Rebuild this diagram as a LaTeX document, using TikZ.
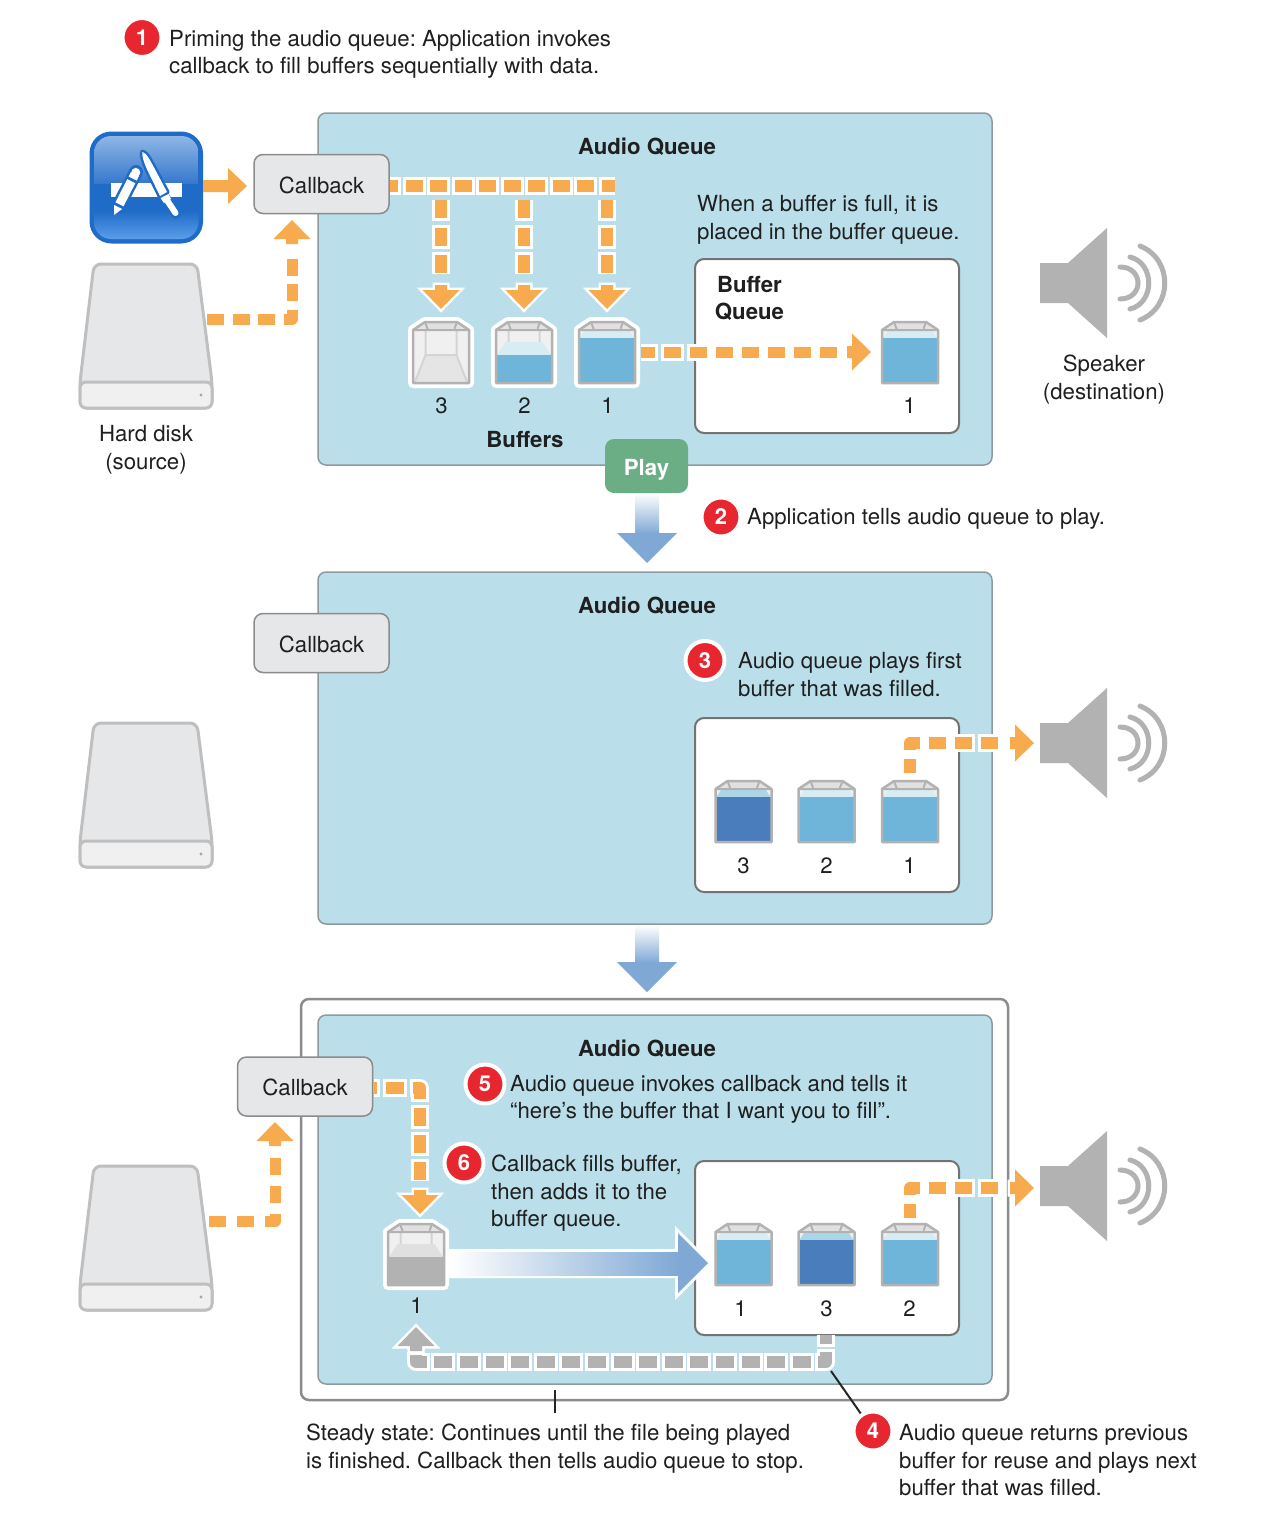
\documentclass[tikz,border=0pt]{standalone}
\usepackage{fontspec}
\setmainfont{TeX Gyre Heros}
\frenchspacing
\definecolor{panelblue}{HTML}{BADEEA}
\definecolor{panelline}{HTML}{8E9A9E}
\definecolor{boxgray}{HTML}{E6E7E8}
\definecolor{orangeA}{HTML}{F7AB4E}
\definecolor{grayA}{HTML}{B2B2B2}
\definecolor{liquidA}{HTML}{6FB5D9}
\definecolor{liquidB}{HTML}{4A7DBB}
\definecolor{topA}{HTML}{D8ECF4}
\definecolor{topB}{HTML}{A9D7E8}
\definecolor{flowblue}{HTML}{7FA8D5}
\definecolor{redA}{HTML}{E8262F}
\definecolor{greenA}{HTML}{6BAE85}
\definecolor{appblue}{HTML}{1F6CC8}
\definecolor{appglossA}{HTML}{8FB6E4}
\definecolor{appglossB}{HTML}{3577CE}
\definecolor{appglossC}{HTML}{5B9EEA}
\newcommand{\textsz}{\fontsize{22.2}{27.6}\selectfont}
\newcommand{\lowered}[2]{\raisebox{-#1pt}[0pt][0pt]{#2}}
\tikzset{
  x=1pt,y=-1pt,
  txt/.style={inner sep=0pt,font=\textsz,text=black!88},
  para/.style={txt,align=left,anchor=north west},
  lab/.style={txt,align=center,anchor=center},
  bold/.style={txt,font=\textsz\bfseries,align=center},
  panel/.style={draw=panelline,line width=1.5pt,fill=panelblue,rounded corners=8pt},
  qbox/.style={draw=black!55,line width=2pt,fill=white,rounded corners=9pt},
  cbox/.style={draw=black!45,line width=1.5pt,fill=boxgray,rounded corners=9pt,minimum width=135pt,minimum height=59pt,inner sep=0pt,font=\textsz,text=black!88},
  numdot/.style={circle,fill=redA,draw=white,line width=4pt,minimum size=39pt,inner sep=0pt,text=white,font=\fontsize{22}{24}\selectfont\bfseries},
  lead/.style={draw=black!85,line width=2pt},
  pics/headO/.style={code={
    \path[draw=white,fill=white,line width=5pt,miter limit=10] (-24,-6)--(-19,-6)--(-19,-18.5)--(0,0)--(-19,18.5)--(-19,6)--(-24,6)--cycle;
    \fill[#1] (-24,-6)--(-19,-6)--(-19,-18.5)--(0,0)--(-19,18.5)--(-19,6)--(-24,6)--cycle;}},
}
% width, colour, on, off, phase, path
\newcommand{\dashrun}[6]{%
  \pgfmathsetmacro{\cw}{#1+6}\pgfmathsetmacro{\con}{#3+6}\pgfmathsetmacro{\coff}{#4-6}\pgfmathsetmacro{\cph}{#5+3}%
  \draw[white,line width=\cw pt,line join=round,dash pattern=on \con pt off \coff pt,dash phase=\cph pt] #6;
  \draw[#2,line width=#1pt,line join=round,dash pattern=on #3pt off #4pt,dash phase=#5pt] #6;}
% name, cx, top, halo, liquid y, light height, liquid colour, light colour
\newcommand{\bufferglyph}[8]{%
  \coordinate (#1) at (#2,#3);
  \begin{scope}[shift={(#2,#3)},line join=round]
    \ifnum#4=1 \draw[white,line width=10pt,fill=white] (-16,0)--(16,0)--(28,8)--(28,61)--(-28,61)--(-28,8)--cycle;\fi
    \fill[black!6] (-28,8) rectangle (28,61);
    \fill[black!10] (-15.5,33)--(15.5,33)--(27,60)--(-27,60)--cycle;
    \fill[black!11] (-16,0)--(16,0)--(28,8)--(-28,8)--cycle;
    \draw[black!17,line width=2pt] (-15.5,8)--(-15.5,33)--(15.5,33)--(15.5,8) (-15.5,33)--(-26,60) (15.5,33)--(26,60);
    \fill[#8] (-27,#5)--(27,#5)--({27-0.65*#6},{#5-#6})--({-27+0.65*#6},{#5-#6})--cycle;
    \fill[#7] (-27,#5) rectangle (27,60);
    \draw[grayA,line width=2pt] (-28,8)--(28,8) (-16,0)--(-13,8) (16,0)--(13,8);
    \fill[black!12] (-12.5,2) rectangle (12.5,7);
    \draw[grayA,line width=2.5pt] (-16,0)--(16,0)--(28,8)--(28,61)--(-28,61)--(-28,8)--cycle;
  \end{scope}}
\newcommand{\diskglyph}[2]{%
  \coordinate (#1) at (146,#2+336);
  \begin{scope}[yshift=-#2pt,line width=3pt,draw=black!25]
    \draw[fill=boxgray,rounded corners=7pt,draw=black!25] (94,264)--(197,264)--(212,382)--(212,408)--(80,408)--(80,382)--cycle;
    \draw[fill=black!6,rounded corners=6pt,draw=black!25] (80,382)--(212,382)--(212,408)--(80,408)--cycle;
    \fill[black!35] (201,395) circle (1.6);
  \end{scope}}
\newcommand{\speakerglyph}[2]{%
  \coordinate (#1) at (1040,#2);
  \begin{scope}[yshift=-#2pt]
    \fill[grayA] (1040,-20)--(1068,-20)--(1107,-55)--(1107,55)--(1068,20)--(1040,20)--cycle;
    \draw[grayA,line width=5pt,line cap=round]
      (1120,-16) .. controls (1144,-16) and (1144,16) .. (1120,16)
      (1130,-26) .. controls (1155,-20) and (1155,20) .. (1130,26)
      (1140,-37) .. controls (1173,-24) and (1173,24) .. (1140,37);
  \end{scope}}
\begin{document}
\begin{tikzpicture}
\useasboundingbox (0,0) rectangle (1282,1520);
\fill[white] (0,0) rectangle (1282,1520);

% frames and panels
\draw[draw=black!45,line width=2.5pt,fill=white,rounded corners=8pt] (301,999) rectangle (1008,1400);
\path[panel] (318,113) rectangle (992,465);
\path[panel] (318,572) rectangle (992,924);
\path[panel] (318,1015) rectangle (992,1384);
\path[qbox] (695,259) rectangle (959,433);
\path[qbox] (695,718) rectangle (959,892);
\path[qbox] (695,1161) rectangle (959,1335);

% app icon
\coordinate (app) at (203,186);
\fill[appblue,rounded corners=22pt] (89.5,131.5) rectangle (203,243.5);
\begin{scope}
  \clip[rounded corners=17pt] (94,136) rectangle (198.5,239);
  \shade[top color=appglossA,bottom color=appglossB] (90,136) rectangle (203,184);
  \fill[appblue] (90,184) rectangle (203,211);
  \shade[top color=appblue,bottom color=appglossC] (90,211) rectangle (203,239);
\end{scope}
\fill[white] (111,183) rectangle (182,197);
% pen
\draw[appblue,line width=14pt,line cap=round] (118,207)--(136,172);
\fill[white] (114,215)--(122.1,209)--(114.1,205)--cycle;
\draw[white,line width=9pt] (119.5,204.3)--(131.3,181.2);
\draw[white,line width=9pt] (132.7,178.5)--(134.9,174.1);
\fill[white] (135.8,172.4) circle (4.5);
% brush
\draw[appblue,line width=5pt,fill=appblue,line join=round] (142.5,152) .. controls (147,153) and (150,160) .. (167,192) -- (160,196) .. controls (150,175) and (141,160) .. (142.5,152) -- cycle;
\draw[appblue,line width=10pt,line cap=round] (164,196)--(176,214);
\fill[white] (142.5,152) .. controls (147,153) and (150,160) .. (167,192) -- (160,196) .. controls (150,175) and (141,160) .. (142.5,152) -- cycle;
\fill[white] (160.5,198)--(168.5,194)--(171,199)--(164,203)--cycle;
\draw[white,line width=6pt,line cap=round] (167.5,201)--(175.5,213);

% disks and speakers
\diskglyph{disk1}{0}
\diskglyph{disk2}{459}
\diskglyph{disk3}{902}
\speakerglyph{spk1}{283}
\speakerglyph{spk2}{743}
\speakerglyph{spk3}{1186}

% callback boxes
\node[cbox] (cb1) at (321.5,184) {\lowered{9}{Callback}};
\node[cbox] (cb2) at (321.5,643) {\lowered{9}{Callback}};
\node[cbox] (cb3) at (305,1086.5) {\lowered{8.5}{Callback}};

% panel 1 buffers
\bufferglyph{b13}{441}{322}{1}{62}{0}{liquidA}{topA}
\bufferglyph{b12}{524}{322}{1}{33}{13}{liquidA}{topA}
\bufferglyph{b11}{607}{322}{1}{16}{7}{liquidA}{topA}
\bufferglyph{q11}{910}{322}{0}{16}{7}{liquidA}{topA}
% panel 2 buffers
\bufferglyph{q23}{743.5}{781}{0}{16}{7}{liquidB}{topB}
\bufferglyph{q22}{826.5}{781}{0}{16}{7}{liquidA}{topA}
\bufferglyph{q21}{910}{781}{0}{16}{7}{liquidA}{topA}
% panel 3 buffers
\bufferglyph{b31}{416}{1224}{1}{33}{13}{grayA}{black!12}
\bufferglyph{q31}{743.5}{1224}{0}{16}{7}{liquidA}{topA}
\bufferglyph{q33}{826.5}{1224}{0}{16}{7}{liquidB}{topB}
\bufferglyph{q32}{910}{1224}{0}{16}{7}{liquidA}{topA}

% solid app arrow
\fill[orangeA] (app|-0,180)--(228,180)--(228,168)--(247,186)--(228,204)--(228,192)--(app|-0,192)--cycle;

% disk to callback (top)
\coordinate (d1s) at (207,319); \coordinate (d1c) at (292,319); \coordinate (d1e) at (292,256);
\dashrun{11}{orangeA}{17}{8.7}{0}{(d1s)--(d1c)--(d1e)}
\pic[rotate=90] at (292,220) {headO={orangeA}};

% callback to buffers
\coordinate (cbs) at (390,186); \coordinate (cbe) at (615,186);
\dashrun{12}{orangeA}{17}{7.5}{9}{(cbs)--(cbe)}
\foreach \n/\cx in {b13/441,b12/524,b11/607}{
  \coordinate (vs) at (\cx,200); \coordinate (ve) at (\cx,274);
  \dashrun{12}{orangeA}{18}{9.5}{0}{(vs)--(ve)}
  \pic[rotate=-90] at (\cx,309) {headO={orangeA}};
}

% buffer 1 to queue
\coordinate (fs) at (641,352); \coordinate (fe) at (838,352);
\dashrun{11}{orangeA}{16.5}{9.5}{3}{(fs)--(fe)}
\pic at (871,352) {headO={orangeA}};

% play arrows
\coordinate (pa1) at (647,493); \coordinate (pa2) at (647,925);
\shade[top color=white,bottom color=flowblue] (635,493) rectangle (659,534);
\fill[flowblue] (617,533)--(677,533)--(647,563)--cycle;
\shade[top color=white,bottom color=flowblue] (635,925) rectangle (659,963);
\fill[flowblue] (617,962)--(677,962)--(647,992)--cycle;

% panel 2 to speaker
\coordinate (s2a) at (910,773); \coordinate (s2b) at (910,743); \coordinate (s2c) at (998,743);
\dashrun{12}{orangeA}{17}{9}{3}{(s2a)--(s2b)--(s2c)}
\pic at (1034,743) {headO={orangeA}};

% panel 3 to speaker
\coordinate (s3a) at (910,1218); \coordinate (s3b) at (910,1188); \coordinate (s3c) at (998,1188);
\dashrun{12}{orangeA}{17}{9}{3}{(s3a)--(s3b)--(s3c)}
\pic at (1034,1188) {headO={orangeA}};

% disk to callback (bottom)
\coordinate (d3s) at (209,1221); \coordinate (d3c) at (275,1221); \coordinate (d3e) at (275,1158);
\dashrun{11}{orangeA}{17}{11}{0}{(d3s)--(d3c)--(d3e)}
\pic[rotate=90] at (275,1122) {headO={orangeA}};

% callback to buffer (bottom)
\coordinate (c3s) at (374,1088); \coordinate (c3c) at (420,1088); \coordinate (c3e) at (420,1181);
\dashrun{12}{orangeA}{18}{9}{15}{(c3s)--(c3c)--(c3e)}
\pic[rotate=-90] at (420,1214) {headO={orangeA}};

% fill arrow
\path[draw=white,line width=6pt,fill=white,miter limit=10] (450,1252)--(678,1252)--(678,1233)--(708,1263)--(678,1293)--(678,1275)--(450,1275)--cycle;
\shade[left color=white,right color=flowblue] (450,1252) rectangle (680,1275);
\fill[flowblue] (678,1233)--(708,1263)--(678,1293)--cycle;

% gray return
\coordinate (r3a) at (826,1335); \coordinate (r3b) at (826,1362); \coordinate (r3c) at (416,1362); \coordinate (r3d) at (416,1349);
\dashrun{12}{grayA}{18}{7.6}{9}{(r3a)--(r3b)--(r3c)--(r3d)}
\pic[rotate=90] at (416,1327) {headO={grayA}};

% leaders
\coordinate (tk1) at (555,1390); \coordinate (tk2) at (555,1413);
\draw[lead] (tk1)--(tk2);
\coordinate (ld1) at (831,1371);

% play button
\node[fill=greenA,rounded corners=9pt,minimum width=83pt,minimum height=54pt,inner sep=0pt,text=white,font=\textsz\bfseries] (play) at (646.5,466) {\lowered{9}{Play}};

% labels
\node[bold] (aq1) at (647,147) {Audio Queue};
\node[bold] (aq2) at (647,606) {Audio Queue};
\node[bold] (aq3) at (647,1049) {Audio Queue};
\node[bold] (bq) at (749.5,298.5) {Buffer\\Queue};
\node[bold] (bufs) at (525,439.5) {Buffers};
\node[lab] (hd) at (146,449.5) {Hard disk\\(source)};
\node[lab] (sp) at (1104,379.5) {Speaker\\(destination)};

\foreach \x/\y/\t/\nm in {441.5/406/3/l1,524.5/406/2/l2,607.5/406/1/l3,909.5/406/1/l4,743.5/865.5/3/l5,826.5/865.5/2/l6,909.5/865.5/1/l7,416.5/1305.5/1/l8,740.5/1308.5/1/l9,826.5/1308.5/3/l10,909.5/1308.5/2/l11}{
  \node[lab] (\nm) at (\x,\y) {\t};
}

\node[para] (t1) at (169,30) {Priming the audio queue: Application invokes\\callback to fill buffers sequentially with data.};
\node[para] (t2) at (747,508) {Application tells audio queue to play.};
\node[para] (t3) at (738,652) {Audio queue plays first\\buffer that was filled.};
\node[para] (tf) at (697,195) {When a buffer is full, it is\\placed in the buffer queue.};
\node[para] (t5) at (510,1075) {Audio queue invokes callback and tells it\\“here’s the buffer that I want you to fill”.};
\node[para] (t6) at (491,1155) {Callback fills buffer,\\then adds it to the\\buffer queue.};
\node[para] (ts) at (306,1424) {Steady state: Continues until the file being played\\is finished. Callback then tells audio queue to stop.};
\node[para] (t4) at (899,1424) {Audio queue returns previous\\buffer for reuse and plays next\\buffer that was filled.};

\node[numdot] (n1) at (142,37.5) {1};
\node[numdot] (n2) at (721,517) {2};
\node[numdot] (n3) at (705,660.5) {3};
\node[numdot] (n5) at (485,1084) {5};
\node[numdot] (n6) at (464,1163) {6};
\node[numdot] (n4) at (873,1431) {4};
\draw[lead] (ld1)--(n4);
\end{tikzpicture}
\end{document}
